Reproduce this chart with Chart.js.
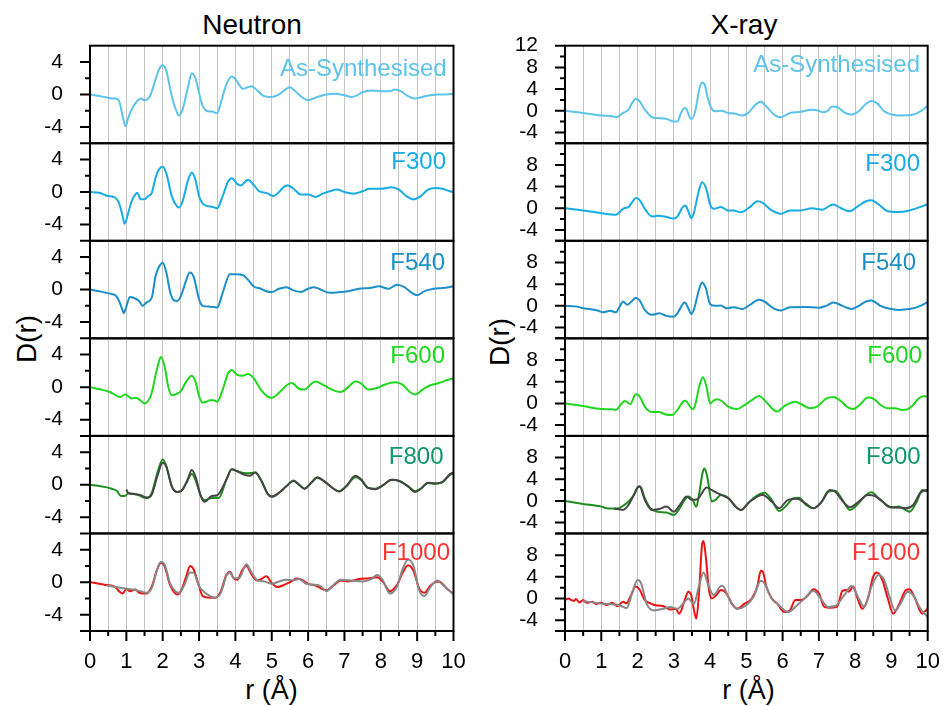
<!DOCTYPE html>
<html>
<head>
<meta charset="utf-8">
<script src="https://cdn.jsdelivr.net/npm/chart.js@4.4.1/dist/chart.umd.min.js"></script>
<style>
  html, body { margin: 0; padding: 0; background: #fff; }
  body { width: 944px; height: 706px; position: relative; overflow: hidden;
         font-family: "Liberation Sans", Arial, sans-serif; }
  canvas { position: absolute; }
  .t { position: absolute; line-height: 1; white-space: nowrap; color: #000;
       transform: translate(-50%, -50%); }
  .rot { transform: translate(-50%, -50%) rotate(-90deg); }
</style>
</head>
<body>
<div class="t" style="left:252px;top:25px;font-size:28px">Neutron</div>
<div class="t" style="left:744px;top:25px;font-size:28px">X-ray</div>
<div class="t rot" style="left:27px;top:339px;font-size:28px">D(r)</div>
<div class="t rot" style="left:500px;top:342px;font-size:28px">D(r)</div>
<div class="t" style="left:271.5px;top:690px;font-size:27px">r (Å)</div>
<div class="t" style="left:748.5px;top:690px;font-size:27px">r (Å)</div>

<script>
// ---- D(r) curves, [r (Å), D(r)] pairs ----

// Neutron
const nAsSyn = [[0,0],[0.25,-0.2],[0.5,-0.4],[0.6,-0.5],[0.7,-0.5],[0.8,-0.8],[0.9,-2.7],[0.98,-3.9],[1.05,-2.9],[1.15,-1.8],[1.3,-0.8],[1.4,-0.5],[1.5,-0.7],[1.65,-0.2],[1.8,1.8],[1.9,3.1],[2.0,3.6],[2.1,2.9],[2.25,-0.2],[2.4,-2.3],[2.45,-2.6],[2.55,-1.8],[2.7,1.0],[2.8,2.6],[2.9,2.0],[3.0,0.2],[3.1,-1.4],[3.2,-2.0],[3.35,-2.1],[3.5,-2.3],[3.6,-1.0],[3.75,1.2],[3.9,2.2],[4.0,1.9],[4.1,1.2],[4.2,0.7],[4.35,0.9],[4.45,1.0],[4.6,0.5],[4.75,-0.1],[5.0,-0.3],[5.2,0],[5.4,0.7],[5.5,0.9],[5.65,0.4],[5.85,-0.4],[6.0,-0.7],[6.2,-0.4],[6.5,0],[6.75,0.1],[7.0,-0.1],[7.2,-0.3],[7.35,-0.1],[7.5,0.3],[7.75,0.5],[8.0,0.4],[8.25,0.4],[8.4,0.6],[8.55,0.4],[8.75,-0.2],[8.95,-0.5],[9.15,-0.3],[9.35,-0.1],[9.6,0],[9.8,0],[10,0.1]];
const nF300 = [[0,0],[0.25,-0.1],[0.5,-0.5],[0.65,-0.6],[0.8,-1.4],[0.9,-3.0],[0.95,-3.9],[1.05,-2.6],[1.15,-1.1],[1.25,-0.3],[1.3,-0.1],[1.4,-0.9],[1.5,-0.9],[1.6,-0.5],[1.7,-0.1],[1.8,1.7],[1.9,2.8],[2.0,3.1],[2.1,2.3],[2.25,-0.5],[2.4,-1.8],[2.45,-1.9],[2.55,-1.1],[2.7,1.5],[2.8,2.4],[2.9,1.5],[3.0,-0.5],[3.15,-1.6],[3.35,-1.8],[3.5,-2.0],[3.65,-0.5],[3.8,1.3],[3.9,1.7],[4.05,1.0],[4.15,0.8],[4.3,1.4],[4.35,1.5],[4.5,0.9],[4.65,0.1],[4.85,-0.1],[5.05,-0.5],[5.2,0],[5.35,0.7],[5.45,0.8],[5.6,0.4],[5.8,-0.3],[6.0,-0.3],[6.2,-0.6],[6.4,-0.2],[6.6,0.1],[6.8,0.3],[7.0,0],[7.25,-0.2],[7.5,0.1],[7.7,0.4],[8.0,0.4],[8.3,0.6],[8.5,0.3],[8.7,-0.5],[8.9,-0.9],[9.1,-0.5],[9.3,0.3],[9.5,0.5],[9.7,0.4],[9.9,0.1],[10,0]];
const nF540 = [[0,0],[0.3,-0.25],[0.55,-0.5],[0.7,-0.7],[0.8,-1.4],[0.9,-2.6],[0.93,-2.9],[1.0,-2.1],[1.1,-0.9],[1.2,-1.0],[1.35,-1.4],[1.45,-2.0],[1.55,-1.6],[1.7,-1.0],[1.75,0.2],[1.8,1.6],[1.9,2.8],[2.0,3.3],[2.1,2.1],[2.2,-0.2],[2.3,-1.3],[2.4,-1.4],[2.5,-0.8],[2.65,1.2],[2.75,2.1],[2.85,1.6],[3.0,-1.2],[3.1,-2.0],[3.3,-2.1],[3.5,-2.2],[3.65,-0.4],[3.85,1.9],[4.0,1.9],[4.2,1.8],[4.35,1.2],[4.5,0.4],[4.7,0.1],[4.85,-0.2],[5.0,-0.3],[5.2,0.1],[5.4,0.3],[5.6,-0.1],[5.8,-0.3],[6.0,0.1],[6.15,0.3],[6.3,0.1],[6.6,-0.4],[6.9,-0.3],[7.1,-0.2],[7.4,0.1],[7.7,0.2],[7.95,0.4],[8.2,0.1],[8.45,0.6],[8.65,0.3],[8.85,-0.4],[9.0,-0.7],[9.2,-0.2],[9.45,0.1],[9.7,0.2],[10,0.4]];
const nF600 = [[0,0],[0.3,-0.3],[0.55,-0.6],[0.75,-1.1],[0.85,-1.2],[0.95,-0.9],[1.05,-1.1],[1.15,-1.4],[1.25,-1.3],[1.35,-1.5],[1.5,-2.0],[1.6,-1.7],[1.7,-0.7],[1.8,1.4],[1.9,3.2],[1.95,3.7],[2.05,2.6],[2.15,0.1],[2.25,-1.0],[2.35,-0.9],[2.5,-0.5],[2.65,0.7],[2.8,1.4],[2.9,0.7],[3.0,-1.1],[3.1,-1.9],[3.2,-1.8],[3.3,-1.6],[3.4,-1.6],[3.5,-1.8],[3.65,-0.3],[3.8,1.7],[3.9,2.1],[4.05,1.5],[4.2,1.4],[4.35,1.6],[4.5,1.1],[4.7,-0.3],[4.9,-1.2],[5.0,-1.3],[5.2,-0.7],[5.4,0.2],[5.55,0.5],[5.75,-0.2],[5.9,-0.3],[6.1,0.45],[6.2,0.7],[6.4,0.3],[6.7,-0.4],[6.9,-0.6],[7.1,0],[7.3,0.7],[7.45,0.5],[7.65,-0.3],[7.9,-0.1],[8.1,0.3],[8.4,0.6],[8.6,0.3],[8.8,-0.6],[8.95,-0.9],[9.15,-0.3],[9.35,0.2],[9.6,0.5],[9.85,0.9],[10,1.1]];
const nF800 = [[0,0],[0.3,-0.2],[0.6,-0.5],[0.75,-0.8],[0.85,-1.4],[0.95,-1.4],[1.05,-1.1],[1.3,-1.2],[1.5,-1.6],[1.6,-1.6],[1.7,-1.0],[1.85,1.4],[2.0,3.1],[2.1,2.3],[2.25,-0.2],[2.4,-0.9],[2.5,-0.8],[2.65,0.2],[2.8,1.3],[2.9,0.6],[3.05,-1.4],[3.15,-1.9],[3.35,-1.65],[3.55,-1.6],[3.75,0.6],[3.9,1.9],[4.05,1.65],[4.3,1.4],[4.55,1.5],[4.7,0.6],[4.9,-1.2],[5.0,-1.5],[5.2,-1.0],[5.4,-0.2],[5.6,0.5],[5.75,0],[5.9,-0.5],[6.1,0.3],[6.25,0.9],[6.45,0.4],[6.7,-0.5],[6.85,-0.8],[7.05,-0.2],[7.3,0.9],[7.45,0.6],[7.65,-0.4],[7.85,-0.5],[8.05,-0.1],[8.3,0.6],[8.5,0.5],[8.75,-0.2],[8.95,-0.8],[9.1,-0.5],[9.3,0.2],[9.5,0.1],[9.7,0.3],[9.9,1.2],[10,1.4]];
const nF800fit = [[1.0,-0.6],[1.05,-1.0],[1.2,-1.15],[1.4,-1.3],[1.55,-1.6],[1.7,-1.2],[1.85,1.0],[2.0,2.7],[2.1,2.2],[2.25,-0.2],[2.4,-0.9],[2.55,-0.6],[2.7,0.8],[2.8,1.8],[2.9,1.0],[3.05,-1.4],[3.15,-2.1],[3.35,-1.4],[3.5,-1.3],[3.75,0.6],[3.9,1.9],[4.05,1.65],[4.25,1.2],[4.4,1.1],[4.55,1.5],[4.7,0.6],[4.9,-1.2],[5.0,-1.45],[5.2,-1.0],[5.4,-0.2],[5.6,0.45],[5.75,0],[5.9,-0.5],[6.1,0.3],[6.25,0.85],[6.45,0.4],[6.7,-0.5],[6.85,-0.85],[7.05,-0.2],[7.3,1.1],[7.45,0.7],[7.65,-0.4],[7.85,-0.55],[8.05,-0.1],[8.3,0.6],[8.5,0.45],[8.75,-0.2],[8.95,-0.9],[9.1,-0.5],[9.3,0.25],[9.5,0.15],[9.7,0.35],[9.9,1.3],[10,1.5]];
const nF1000 = [[0,0],[0.4,-0.3],[0.7,-0.6],[0.8,-1.1],[0.9,-1.4],[1.0,-0.8],[1.1,-1.1],[1.25,-0.9],[1.35,-1.3],[1.55,-1.4],[1.7,-0.5],[1.85,1.6],[1.95,2.4],[2.05,2.0],[2.2,-0.3],[2.4,-1.5],[2.5,-1.1],[2.65,0.75],[2.75,2.0],[2.85,1.6],[3.0,-0.5],[3.1,-1.7],[3.3,-1.9],[3.45,-1.9],[3.6,-1.1],[3.75,0.9],[3.85,1.3],[3.95,0.5],[4.05,0.3],[4.2,1.6],[4.3,2.0],[4.45,0.9],[4.6,0.2],[4.75,0.5],[4.85,0.75],[5.0,-0.1],[5.15,-0.6],[5.3,-0.4],[5.5,0],[5.7,0.45],[5.85,0.25],[6.0,-0.2],[6.2,-0.4],[6.5,-1.0],[6.7,-0.4],[6.9,0.2],[7.1,0.1],[7.4,0.4],[7.7,0.5],[7.9,0.6],[8.05,0.1],[8.25,-1.1],[8.45,-0.3],[8.6,1.15],[8.75,2.1],[8.9,1.4],[9.05,-0.7],[9.2,-1.3],[9.35,-0.5],[9.5,0],[9.6,0.1],[9.8,-0.7],[10,-1.45]];
const nF1000fit = [[0.45,-0.4],[1.0,-0.8],[1.3,-1.0],[1.55,-1.3],[1.7,-0.7],[1.85,1.6],[1.95,2.5],[2.05,2.2],[2.2,-0.1],[2.35,-1.1],[2.45,-1.3],[2.6,-0.3],[2.75,1.2],[2.85,1.15],[3.0,-0.5],[3.2,-1.4],[3.45,-1.9],[3.6,-1.3],[3.75,0.75],[3.85,1.2],[3.95,0.5],[4.1,0.5],[4.25,1.9],[4.3,2.2],[4.45,1.15],[4.6,0.25],[4.8,0.1],[5.0,-0.2],[5.2,0.1],[5.4,0.3],[5.6,0.25],[5.75,0.4],[5.95,-0.2],[6.15,-0.3],[6.35,-0.5],[6.5,-1.1],[6.7,-0.3],[6.9,0.3],[7.2,0.2],[7.5,0.1],[7.75,0.4],[7.9,0.9],[8.05,0.3],[8.25,-1.4],[8.45,-0.5],[8.6,1.6],[8.75,2.8],[8.9,2.0],[9.05,-0.9],[9.2,-1.7],[9.35,-0.7],[9.55,0.2],[9.7,-0.3],[9.85,-0.9],[10,-1.5]];

// X-ray
const xAsSyn = [[0,0],[0.5,-0.4],[1.0,-0.9],[1.3,-1.0],[1.4,-1.2],[1.6,-0.4],[1.75,0.2],[1.85,1.4],[1.95,2.2],[2.05,1.8],[2.2,0.2],[2.4,-1.2],[2.55,-1.35],[2.8,-1.5],[3.0,-2.0],[3.1,-2.0],[3.2,-0.4],[3.3,0.5],[3.35,0.3],[3.45,-1.35],[3.5,-1.5],[3.6,0.2],[3.7,3.9],[3.78,5.2],[3.85,4.8],[3.95,2.0],[4.05,0.3],[4.15,-0.1],[4.3,0],[4.5,-0.4],[4.7,-0.55],[4.9,-0.9],[5.05,-0.4],[5.25,1.1],[5.4,1.7],[5.55,0.8],[5.8,-0.9],[5.95,-1.2],[6.2,-0.4],[6.5,-0.2],[6.8,0.2],[7.0,0],[7.1,-0.3],[7.25,0],[7.35,0.8],[7.5,0.7],[7.7,-0.3],[7.9,-0.7],[8.1,-0.1],[8.3,1.3],[8.45,1.8],[8.6,1.4],[8.8,-0.1],[9.0,-0.7],[9.2,-0.9],[9.4,-0.85],[9.6,-0.7],[9.8,-0.1],[10,0.9]];
const xF300 = [[0,0],[0.5,-0.4],[1.0,-0.9],[1.4,-1.2],[1.6,-0.1],[1.75,0.25],[1.85,1.1],[1.95,1.9],[2.05,1.6],[2.2,-0.1],[2.4,-1.5],[2.55,-1.4],[2.8,-1.6],[3.0,-1.9],[3.1,-1.5],[3.25,0.25],[3.32,0.5],[3.4,-0.55],[3.48,-1.8],[3.55,-0.9],[3.7,3.5],[3.78,4.8],[3.9,3.5],[4.0,0.7],[4.1,-0.1],[4.3,0.25],[4.5,-0.45],[4.65,-0.4],[4.85,-0.75],[5.1,0.25],[5.3,1.3],[5.45,1.0],[5.7,-0.4],[5.95,-1.0],[6.2,-0.4],[6.5,-0.4],[6.8,0],[7.1,-0.25],[7.3,0.5],[7.4,0.7],[7.6,0.05],[7.85,-0.55],[8.05,0.25],[8.3,1.3],[8.45,1.5],[8.65,0.7],[8.9,-0.55],[9.2,-0.7],[9.5,-0.4],[9.8,0.25],[10,0.8]];
const xF540 = [[0,0],[0.3,-0.1],[0.5,-0.45],[0.7,-0.6],[0.9,-0.85],[1.05,-1.2],[1.25,-0.9],[1.4,-1.2],[1.5,-0.25],[1.6,0.8],[1.72,0.2],[1.85,0.9],[1.95,1.5],[2.05,1.1],[2.2,-0.75],[2.4,-1.65],[2.6,-1.35],[2.8,-1.85],[3.0,-2.0],[3.1,-1.35],[3.25,0.35],[3.3,0.6],[3.4,-0.45],[3.48,-1.5],[3.55,-0.75],[3.7,3.1],[3.78,4.3],[3.88,3.3],[4.0,0.35],[4.15,0],[4.3,0.05],[4.45,-0.45],[4.65,-0.25],[4.9,-0.6],[5.1,0.2],[5.35,1.1],[5.5,0.8],[5.75,-0.45],[5.95,-0.85],[6.2,-0.25],[6.6,-0.2],[7.0,-0.35],[7.2,0],[7.4,0.6],[7.65,0],[7.9,-0.6],[8.1,0],[8.3,0.8],[8.45,1.0],[8.7,0],[8.95,-0.55],[9.2,-0.75],[9.5,-0.6],[9.8,0],[10,0.7]];
const xF600 = [[0,0],[0.5,-0.5],[1.0,-1.05],[1.3,-1.1],[1.4,-1.2],[1.55,-0.1],[1.65,0.45],[1.8,-0.1],[1.95,1.7],[2.05,1.35],[2.2,-0.6],[2.4,-1.6],[2.6,-1.6],[2.75,-2.0],[2.95,-2.15],[3.1,-1.2],[3.25,0.3],[3.32,0.5],[3.45,-0.6],[3.52,-1.1],[3.6,0],[3.7,3.1],[3.8,4.8],[3.9,3.1],[4.0,0],[4.1,0.5],[4.2,0.75],[4.35,0.3],[4.5,-0.6],[4.75,-1.05],[4.95,-0.3],[5.15,0.6],[5.35,1.35],[5.5,0.6],[5.75,-1.2],[5.85,-1.5],[6.05,-0.5],[6.35,0.3],[6.55,-0.3],[6.75,-0.9],[6.95,-0.6],[7.2,0.9],[7.4,1.2],[7.6,0.45],[7.8,-0.75],[7.95,-1.05],[8.15,-0.1],[8.35,1.1],[8.5,0.9],[8.7,-0.3],[8.9,-0.9],[9.1,-0.9],[9.3,-1.2],[9.45,-1.05],[9.6,-0.3],[9.75,0.9],[9.9,1.35],[10,1.2]];
const xF800 = [[0,0],[0.5,-0.55],[1.0,-1.05],[1.2,-1.4],[1.45,-1.4],[1.6,-0.9],[1.75,-0.1],[1.9,1.1],[2.0,2.5],[2.08,2.6],[2.2,0.5],[2.35,-1.35],[2.55,-2.0],[2.8,-2.15],[3.0,-2.6],[3.15,-1.5],[3.3,0.2],[3.4,0.8],[3.52,0.2],[3.62,-1.05],[3.7,1.4],[3.8,5.4],[3.85,6.0],[3.92,4.5],[4.05,-0.1],[4.15,0.2],[4.3,1.1],[4.5,0.6],[4.7,-1.05],[4.85,-1.65],[5.05,-0.4],[5.25,0.8],[5.5,1.5],[5.7,0.2],[5.9,-1.85],[6.1,-0.9],[6.3,0.5],[6.45,0.6],[6.65,-0.75],[6.85,-1.35],[7.05,-0.4],[7.25,1.7],[7.45,1.9],[7.65,0.2],[7.85,-1.65],[8.05,-0.75],[8.3,1.1],[8.45,1.6],[8.65,0.5],[8.9,-0.9],[9.05,-1.15],[9.2,-1.05],[9.35,-1.5],[9.5,-2.0],[9.7,-0.1],[9.85,2.0],[10,1.7]];
const xF800fit = [[1.35,-1.4],[1.6,-1.65],[1.75,-0.75],[1.9,1.1],[2.05,2.75],[2.2,0.2],[2.4,-1.65],[2.6,-1.5],[2.8,-1.05],[3.0,-2.0],[3.2,-0.4],[3.35,0.8],[3.5,0.2],[3.65,0.3],[3.8,1.7],[3.9,2.5],[4.05,2.0],[4.25,1.3],[4.5,0.5],[4.85,-1.65],[5.1,-0.1],[5.45,1.1],[5.7,-0.1],[5.9,-1.35],[6.15,0.2],[6.4,0.4],[6.65,-0.55],[6.85,-1.35],[7.1,0.05],[7.3,2.0],[7.45,1.7],[7.7,-0.4],[7.85,-1.15],[8.1,-0.1],[8.35,1.1],[8.55,0.9],[8.75,-0.1],[8.95,-1.15],[9.15,-1.2],[9.4,-1.35],[9.6,-0.75],[9.8,1.5],[10,2.1]];
const xF1000 = [[0,-0.3],[0.1,0],[0.15,-0.2],[0.25,-0.45],[0.3,-0.1],[0.4,-0.75],[0.5,-0.3],[0.6,-0.8],[0.75,-0.6],[0.85,-1.0],[1.0,-0.8],[1.15,-1.25],[1.3,-0.8],[1.45,-1.4],[1.6,-0.6],[1.7,-0.9],[1.8,0.3],[1.95,2.2],[2.05,1.7],[2.2,-0.3],[2.35,-0.9],[2.5,-1.25],[2.7,-1.4],[2.9,-2.05],[3.05,-1.9],[3.15,-2.8],[3.3,-0.3],[3.4,1.25],[3.48,0.6],[3.55,-1.9],[3.62,-3.75],[3.7,1.55],[3.78,10.0],[3.82,10.6],[3.88,7.8],[3.97,1.55],[4.05,0],[4.15,0.45],[4.3,1.55],[4.45,0.95],[4.6,-0.95],[4.75,-1.9],[4.95,-0.95],[5.15,0],[5.3,2.2],[5.4,5.1],[5.45,5.0],[5.55,2.2],[5.7,0],[5.85,-0.95],[6.05,-2.5],[6.2,-2.2],[6.35,-0.3],[6.5,-0.3],[6.7,0.6],[6.85,1.7],[7.0,0.95],[7.15,-1.55],[7.3,-1.7],[7.5,-1.55],[7.65,1.4],[7.75,1.55],[7.82,1.25],[7.95,2.2],[8.05,0.3],[8.2,-1.9],[8.35,0],[8.5,4.1],[8.6,4.8],[8.75,3.4],[8.9,0],[9.05,-2.8],[9.2,-1.25],[9.4,1.55],[9.5,1.7],[9.65,0],[9.85,-2.8],[9.95,-2.2],[10,-1.9]];
const xF1000fit = [[0.5,-0.45],[1.0,-0.95],[1.5,-1.25],[1.7,-1.75],[1.85,0.95],[2.0,3.4],[2.1,2.8],[2.25,-0.95],[2.45,-2.2],[2.7,-1.9],[2.9,-1.55],[3.1,-1.9],[3.3,-0.6],[3.4,0],[3.55,-1.05],[3.7,2.5],[3.82,4.8],[3.95,2.5],[4.1,0.6],[4.3,2.3],[4.35,2.3],[4.5,0.3],[4.75,-1.9],[5.0,-1.25],[5.2,0.3],[5.4,3.25],[5.5,2.8],[5.7,0],[5.9,-1.25],[6.15,-2.5],[6.4,-1.25],[6.6,0],[6.85,1.45],[7.05,0],[7.25,-1.55],[7.45,-1.4],[7.7,0.6],[7.9,2.3],[8.1,0],[8.25,-1.55],[8.45,2.2],[8.65,4.4],[8.8,3.4],[8.95,0.3],[9.1,-2.2],[9.25,-0.95],[9.45,1.25],[9.6,0.6],[9.8,-1.9],[10,-3.4]];

// ---- panel contents ----
const sampleNames = ['As-Synthesised', 'F300', 'F540', 'F600', 'F800', 'F1000'];
const neutronSeries = [[nAsSyn], [nF300], [nF540], [nF600], [nF800, nF800fit], [nF1000, nF1000fit]];
const xraySeries = [[xAsSyn], [xF300], [xF540], [xF600], [xF800, xF800fit], [xF1000, xF1000fit]];

// ---- styling ----
const lineColors = [['#5CC3EA'], ['#18ACE4'], ['#1B8FC8'], ['#1ED81E'], ['#1E8E1E', '#454545'], ['#EE1111', '#888888']];
const labelColors = ['#5CC3EA', '#18ACE4', '#1B8FC8', '#1ED81E', '#10966A', '#FF3333'];
const neutronLabelPos = [[6.8, 23.5], [7.5, 19.6], [8.5, 22.3], [8.5, 18.2], [10, 21], [3.5, 19.6]];
const xrayLabelPos = [[7.7, 19.6], [7.7, 21], [11.7, 22.3], [5.7, 18.2], [7, 21], [7.7, 20]];

const FONT = '"Liberation Sans", Arial, sans-serif';
const PANEL_TOP = 45.7, PANEL_H = 97.55, PAD = 36, X_AXIS_H = 50;

// canvases are wider than their column so the axis padding never squeezes the plot
const columns = [
  { series: neutronSeries, yMin: -6, yMax: 6, left: 0, width: 500, axisW: 90, plotRight: 453.5, labelPos: neutronLabelPos },
  { series: xraySeries, yMin: -6, yMax: 12, left: 470, width: 510, axisW: 95, plotRight: 927.7, labelPos: xrayLabelPos }
];

// frame, outward tick marks and sample name for each panel
const panelDecor = {
  id: 'panelDecor',
  afterDatasetsDraw(chart, args, o) {
    const { ctx, chartArea: a, scales } = chart;
    ctx.save();
    ctx.strokeStyle = '#000';
    ctx.lineWidth = 2;
    ctx.strokeRect(a.left, a.top, a.right - a.left, a.bottom - a.top);
    ctx.beginPath();
    const y = scales.y;
    for (let v = o.yMin; v <= o.yMax; v += 2) {
      const major = v % 4 === 0 || v === o.yMin;
      if (v === o.yMax && !major) continue;
      const py = y.getPixelForValue(v);
      ctx.moveTo(a.left - (major ? 10 : 5), py);
      ctx.lineTo(a.left, py);
    }
    if (o.bottom) {
      const x = scales.x;
      for (let k = 0; k <= 20; k++) {
        const px = x.getPixelForValue(k / 2);
        ctx.moveTo(px, a.bottom);
        ctx.lineTo(px, a.bottom + (k % 2 === 0 ? 10 : 5));
      }
    }
    ctx.stroke();
    ctx.fillStyle = o.labelColor;
    ctx.font = '24px ' + FONT;
    ctx.textAlign = 'right';
    ctx.textBaseline = 'middle';
    ctx.fillText(o.label, a.right - o.labelPos[0], a.top + o.labelPos[1]);
    ctx.restore();
  }
};

columns.forEach(col => {
  for (let i = 0; i < 6; i++) {
    const bottom = i === 5;
    const top = PANEL_TOP + i * PANEL_H;
    const cTop = Math.floor(top) - PAD;
    const padTop = top - cTop;
    const cH = bottom ? 706 - cTop : Math.ceil(padTop + PANEL_H + PAD);
    const padBottom = cH - padTop - PANEL_H - (bottom ? X_AXIS_H : 0);

    const cv = document.createElement('canvas');
    cv.width = col.width;
    cv.height = cH;
    cv.style.left = col.left + 'px';
    cv.style.top = cTop + 'px';
    cv.style.width = col.width + 'px';
    cv.style.height = cH + 'px';
    document.body.appendChild(cv);

    // fit curve (second series) drawn on top of the measured one
    const datasets = col.series[i].map((s, j) => ({
      data: s.map(p => ({ x: p[0], y: p[1] })),
      borderColor: lineColors[i][j],
      order: col.series[i].length - 1 - j
    }));

    new Chart(cv, {
      type: 'line',
      data: { datasets },
      plugins: [panelDecor],
      options: {
        responsive: false,
        animation: false,
        devicePixelRatio: 1,
        events: [],
        layout: { padding: { top: padTop, bottom: padBottom, left: 0, right: col.width - (col.plotRight - col.left) } },
        elements: {
          point: { radius: 0 },
          line: { borderWidth: 2, cubicInterpolationMode: 'monotone', fill: false }
        },
        plugins: {
          legend: { display: false },
          tooltip: { enabled: false },
          panelDecor: {
            yMin: col.yMin, yMax: col.yMax, bottom,
            label: sampleNames[i], labelColor: labelColors[i], labelPos: col.labelPos[i]
          }
        },
        scales: {
          x: {
            type: 'linear', min: 0, max: 10,
            border: { display: false },
            grid: { color: '#c6c6c6', lineWidth: 1, drawTicks: false },
            ticks: {
              display: bottom, stepSize: 0.5, autoSkip: false, maxRotation: 0, minRotation: 0,
              padding: 18, color: '#000', font: { family: FONT, size: 22 },
              callback: v => (Number.isInteger(v) ? String(v) : '')
            },
            afterFit: s => { s.height = bottom ? X_AXIS_H : 0; }
          },
          y: {
            type: 'linear', min: col.yMin, max: col.yMax,
            border: { display: false },
            grid: { display: false },
            ticks: {
              stepSize: 2, autoSkip: false, padding: 19, color: '#000',
              font: { family: FONT, size: 21 },
              callback: v => (v % 4 === 0 && !(v === col.yMax && i > 0) ? String(v) : '')
            },
            afterFit: s => { s.width = col.axisW; }
          }
        }
      }
    });
  }
});
</script>
</body>
</html>
